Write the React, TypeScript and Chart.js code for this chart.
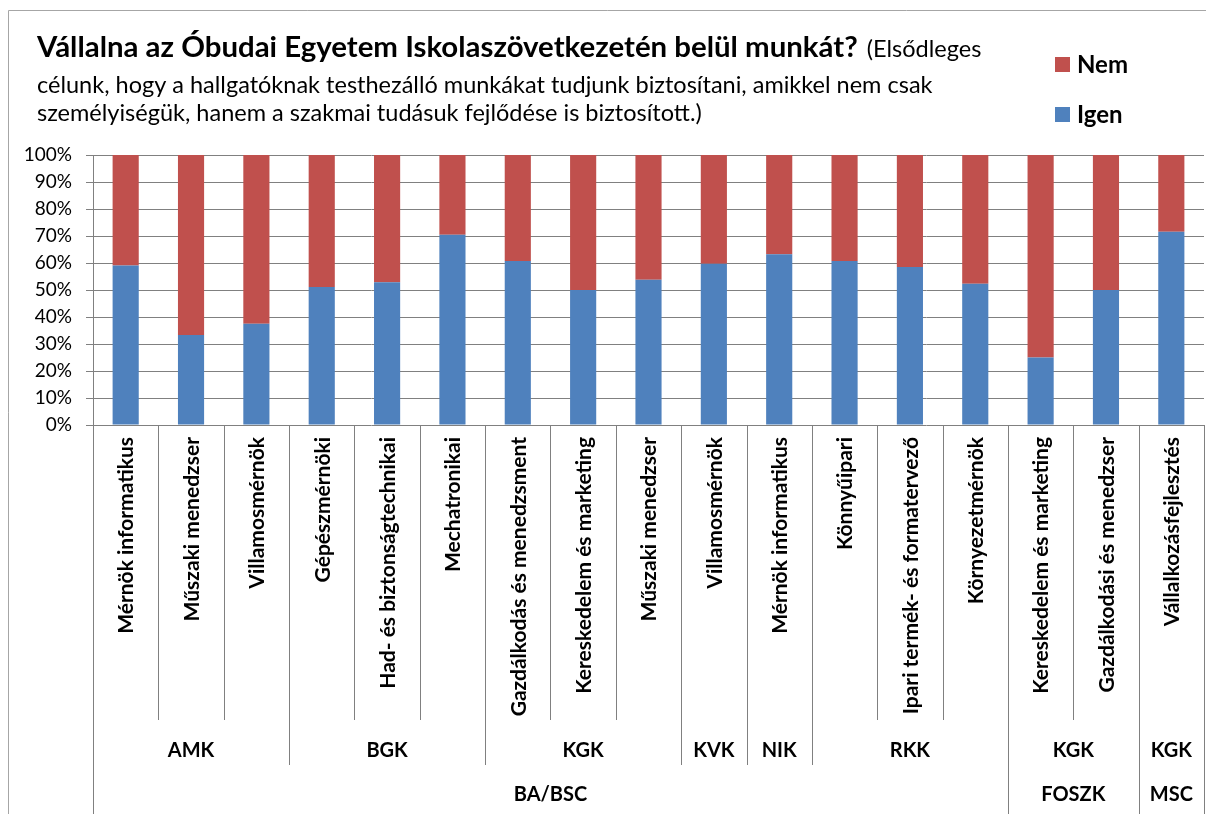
import React, { useEffect, useRef } from 'react';
import { Chart, registerables } from 'chart.js';

Chart.register(...registerables);

const categories = [
  'Mérnök informatikus',
  'Műszaki menedzser',
  'Villamosmérnök',
  'Gépészmérnöki',
  'Had- és biztonságtechnikai',
  'Mechatronikai',
  'Gazdálkodás és menedzsment',
  'Kereskedelem és marketing',
  'Műszaki menedzser',
  'Villamosmérnök',
  'Mérnök informatikus',
  'Könnyűipari',
  'Ipari termék- és formatervező',
  'Környezetmérnök',
  'Kereskedelem és marketing',
  'Gazdálkodási és menedzser',
  'Vállalkozásfejlesztés',
];

const groupLabels = ['AMK', 'BGK', 'KGK', 'KVK', 'NIK', 'RKK', 'KGK', 'KGK'];
const groupSizes = [3, 3, 3, 1, 1, 3, 2, 1];

const levelLabels = ['BA/BSC', 'FOSZK', 'MSC'];
const levelSizes = [14, 2, 1];

const igen = [59.1, 33.3, 37.5, 51.1, 52.9, 70.5, 60.7, 50.0, 53.8, 59.7, 63.2, 60.7, 58.5, 52.3, 25.0, 50.0, 71.6];
const nem = [40.9, 66.7, 62.5, 48.9, 47.1, 29.5, 39.3, 50.0, 46.2, 40.3, 36.8, 39.3, 41.5, 47.7, 75.0, 50.0, 28.4];

const seriesNames = ['Igen', 'Nem'];
const seriesColors = ['#4F81BD', '#C0504D'];

const titleBold = 'Vállalna az Óbudai Egyetem Iskolaszövetkezetén belül munkát?';
const titleRest = '(Elsődleges';
const titleLine2 = 'célunk, hogy a hallgatóknak testhezálló munkákat tudjunk biztosítani, amikkel nem csak';
const titleLine3 = 'személyiségük, hanem a szakmai tudásuk fejlődése is biztosított.)';

const FAM = 'Lato, "Open Sans", sans-serif';
const GRID = '#808080';

const cumulative = (sizes: number[]) => {
  const out = [0];
  sizes.forEach((s) => out.push(out[out.length - 1] + s));
  return out;
};

const decorPlugin = {
  id: 'decor',
  afterDraw(chart: any) {
    const ctx: CanvasRenderingContext2D = chart.ctx;
    const area = chart.chartArea;
    const xs = chart.scales.x;
    const H = chart.height;
    const W = chart.width;
    ctx.save();

    // outer frame
    ctx.strokeStyle = '#a6a6a6';
    ctx.lineWidth = 1;
    ctx.beginPath();
    ctx.moveTo(8.5, H);
    ctx.lineTo(8.5, 10.5);
    ctx.lineTo(W, 10.5);
    ctx.stroke();

    // title
    const fit = (text: string, weight: string, target: number) => {
      ctx.font = `${weight} 20px ${FAM}`;
      const w = ctx.measureText(text).width;
      return (20 * target) / w;
    };
    ctx.fillStyle = '#000';
    ctx.textAlign = 'left';
    ctx.textBaseline = 'alphabetic';
    const bSize = fit(titleBold, 'bold', 821);
    ctx.font = `bold ${bSize}px ${FAM}`;
    ctx.fillText(titleBold, 37, 57);
    const bw = ctx.measureText(titleBold).width;
    const nSize = fit(titleLine2, 'normal', 896);
    ctx.font = `normal ${nSize}px ${FAM}`;
    ctx.fillText(titleRest, 37 + bw + 9, 57);
    ctx.fillText(titleLine2, 37, 93);
    ctx.fillText(titleLine3, 37, 121);

    // legend (Nem above Igen)
    const legendItems = [
      { name: seriesNames[1], color: seriesColors[1], y: 64.5 },
      { name: seriesNames[0], color: seriesColors[0], y: 114.5 },
    ];
    ctx.font = `bold 24px ${FAM}`;
    ctx.textBaseline = 'middle';
    legendItems.forEach((it) => {
      ctx.fillStyle = it.color;
      ctx.fillRect(1055, it.y - 7.5, 15, 15);
      ctx.fillStyle = '#000';
      ctx.fillText(it.name, 1077, it.y + 1);
    });

    // category axis separators
    const n = categories.length;
    const cw = (area.right - area.left) / n;
    const gB = cumulative(groupSizes);
    const lB = cumulative(levelSizes);
    ctx.strokeStyle = GRID;
    ctx.lineWidth = 1;
    for (let i = 0; i <= n; i++) {
      const x = Math.round(area.left + i * cw) + 0.5;
      const yEnd = lB.includes(i) ? H : gB.includes(i) ? 765 : 720;
      ctx.beginPath();
      ctx.moveTo(x, area.bottom);
      ctx.lineTo(x, yEnd);
      ctx.stroke();
    }

    // rotated category labels
    ctx.fillStyle = '#000';
    ctx.font = `bold 21px ${FAM}`;
    categories.forEach((c, i) => {
      const cx = xs.getPixelForValue(i);
      ctx.save();
      ctx.translate(cx, 437);
      ctx.rotate(-Math.PI / 2);
      ctx.textAlign = 'right';
      ctx.textBaseline = 'middle';
      ctx.fillText(c, 0, 1);
      ctx.restore();
    });

    // group labels
    ctx.textAlign = 'center';
    ctx.textBaseline = 'middle';
    ctx.font = `bold 20px ${FAM}`;
    groupLabels.forEach((g, k) => {
      const x0 = area.left + gB[k] * cw;
      const x1 = area.left + gB[k + 1] * cw;
      ctx.fillText(g, (x0 + x1) / 2, 751);
    });
    levelLabels.forEach((g, k) => {
      const x0 = area.left + lB[k] * cw;
      const x1 = area.left + lB[k + 1] * cw;
      ctx.fillText(g, (x0 + x1) / 2, 795);
    });

    ctx.restore();
  },
};

export default function App() {
  const ref = useRef<HTMLCanvasElement>(null);
  useEffect(() => {
    if (!ref.current) return;
    const chart = new Chart(ref.current, {
      type: 'bar',
      data: {
        labels: categories,
        datasets: [
          { label: seriesNames[0], data: igen, backgroundColor: seriesColors[0], borderWidth: 0 },
          { label: seriesNames[1], data: nem, backgroundColor: seriesColors[1], borderWidth: 0 },
        ],
      },
      options: {
        responsive: false,
        animation: false,
        devicePixelRatio: 1,
        layout: { padding: { top: 155, bottom: 389, left: 0, right: 2 } },
        datasets: { bar: { categoryPercentage: 1, barPercentage: 0.4 } },
        plugins: {
          legend: { display: false },
          title: { display: false },
          tooltip: { enabled: false },
        },
        scales: {
          x: { stacked: true, display: false },
          y: {
            stacked: true,
            min: 0,
            max: 100,
            afterFit: (s: any) => {
              s.width = 93;
            },
            ticks: {
              stepSize: 10,
              callback: (v: any) => `${v}%`,
              color: '#000',
              font: { family: FAM, size: 19 },
              padding: 14,
            },
            grid: { color: GRID, lineWidth: 1, tickLength: 7, drawTicks: true },
            border: { display: true, color: GRID, width: 1 },
          },
        },
      },
      plugins: [decorPlugin],
    });
    return () => chart.destroy();
  }, []);
  return (
    <div style={{ position: 'absolute', left: 0, top: 0, width: 1206, height: 814, background: '#fff' }}>
      <canvas ref={ref} width={1206} height={814} style={{ display: 'block', width: 1206, height: 814 }} />
    </div>
  );
}
